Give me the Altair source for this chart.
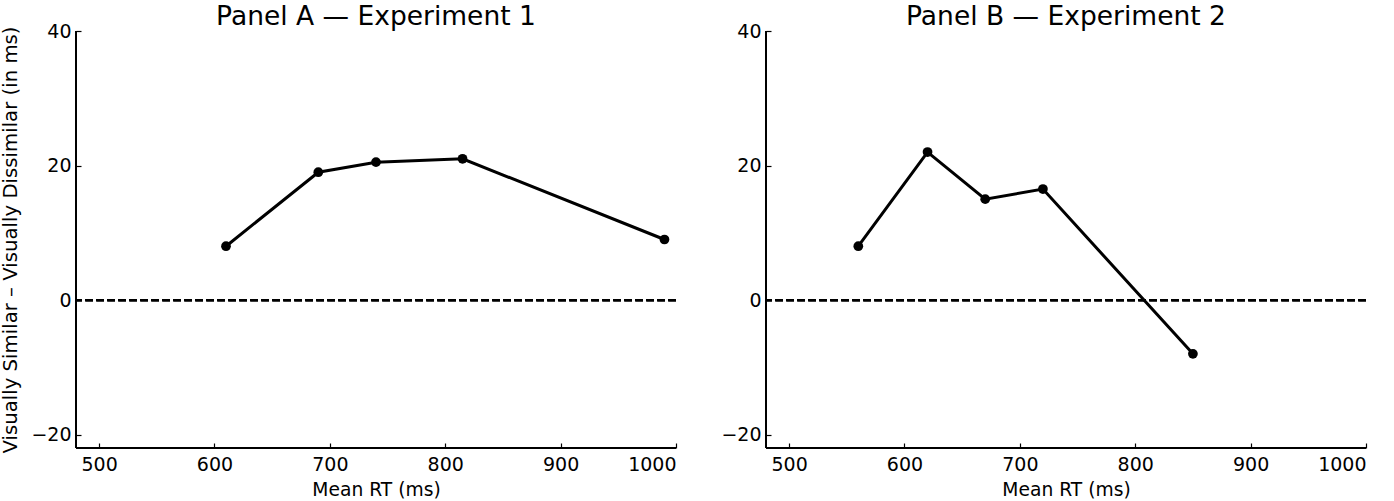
import altair as alt
import pandas as pd

# Mean RT per bin and the similarity effect (similar minus dissimilar), in ms
rt_exp1 = [610, 690, 740, 815, 990]
effect_exp1 = [8, 19, 20.5, 21, 9]
rt_exp2 = [560, 620, 670, 720, 850]
effect_exp2 = [8, 22, 15, 16.5, -8]

x_ticks = [500, 600, 700, 800, 900, 1000]
y_ticks = [-20, 0, 20, 40]
x_domain = [480, 1000]
y_domain = [-22, 40]

FONT = "DejaVu Sans"
INK = "black"


def panel(rt, effect, title, y_title):
    df = pd.DataFrame({"rt": rt, "effect": effect})
    xs = alt.Scale(domain=x_domain, nice=False, zero=False)
    ys = alt.Scale(domain=y_domain, nice=False, zero=False)

    x_enc = alt.X("rt:Q", scale=xs,
                  axis=alt.Axis(values=x_ticks, format="d", title="Mean RT (ms)"))
    y_enc = alt.Y("effect:Q", scale=ys,
                  axis=alt.Axis(values=y_ticks, format="d", title=y_title))

    base = alt.Chart(df)
    zero = base.mark_rule(color=INK, strokeWidth=2.2, strokeDash=[7.7, 3.3]).encode(
        y=alt.YDatum(0, scale=ys)
    )
    line = base.mark_line(color=INK, strokeWidth=3).encode(x=x_enc, y=y_enc)
    dots = base.mark_circle(color=INK, opacity=1, size=95).encode(x=x_enc, y=y_enc)
    spine_left = base.mark_rule(color=INK, strokeWidth=2).encode(
        x=alt.XDatum(x_domain[0], scale=xs)
    )
    spine_bottom = base.mark_rule(color=INK, strokeWidth=2).encode(
        y=alt.YDatum(y_domain[0], scale=ys)
    )
    return alt.layer(zero, line, dots, spine_left, spine_bottom).properties(
        width=600,
        height=417,
        title=alt.TitleParams(title, fontSize=26.5, font=FONT, fontWeight="normal",
                              color=INK, anchor="middle", frame="group", offset=-8),
    )


left = panel(rt_exp1, effect_exp1, "Panel A — Experiment 1",
             "Visually Similar – Visually Dissimilar (in ms)")
right = panel(rt_exp2, effect_exp2, "Panel B — Experiment 2", None)

chart = (
    alt.hconcat(left, right, spacing=90, bounds="flush")
    .properties(padding={"left": 0, "top": 3, "right": 0, "bottom": 0})
    .configure_view(stroke=None)
    .configure_axis(
        domain=False, grid=False, offset=-5, tickSize=5, tickWidth=1.2,
        tickColor=INK, labelColor=INK, labelFont=FONT, labelFontSize=19,
        titleFont=FONT, titleFontWeight="normal", titleColor=INK,
    )
    .configure_axisX(labelPadding=7, titlePadding=6, titleFontSize=18.7)
    .configure_axisY(labelPadding=5, titlePadding=10, titleFontSize=19.7)
)

chart.save("out.html", embed_options={"renderer": "svg", "actions": False})
